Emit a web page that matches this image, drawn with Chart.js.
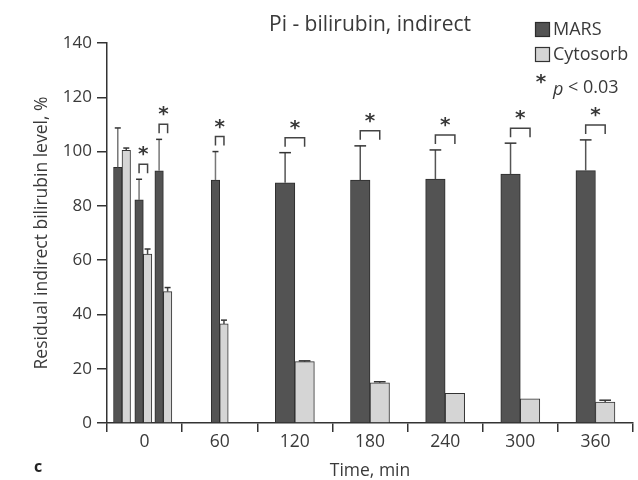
<!DOCTYPE html>
<html><head><meta charset="utf-8">
<script src="https://cdn.jsdelivr.net/npm/chart.js@4/dist/chart.umd.min.js"></script>
<style>html,body{margin:0;padding:0;background:#fff}#wrap{width:638px;height:480px}</style>
</head><body><div id="wrap"><canvas id="c" width="638" height="480"></canvas></div>
<script>
// ---- data ----
const timeLabels = ['0', '60', '120', '180', '240', '300', '360'];
// sample times (min) of the early samples (three around 0, then 60)
const earlyTimes = [-18, -1, 15, 60];
const lateTimes = [120, 180, 240, 300, 360];
const marsEarly = [94.2, 82.2, 92.9, 89.5];
const marsEarlyErr = [14.5, 7.6, 11.6, 10.5];
const cytoEarly = [100.5, 62.2, 48.4, 36.5];
const cytoEarlyErr = [0.8, 1.9, 1.5, 1.4];
const marsLate = [88.5, 89.5, 89.9, 91.7, 93.0];
const marsLateErr = [11.1, 12.6, 10.7, 11.4, 11.3];
const cytoLate = [22.6, 14.8, 10.9, 8.9, 7.7];
const cytoLateErr = [0.3, 0.4, 0, 0, 0.7];
const sigEarly = [false, true, true, true];
const sigLate = [true, true, true, true, true];
const yTicks = [0, 20, 40, 60, 80, 100, 120, 140];

const FONT = '"Open Sans", "DejaVu Sans", sans-serif';
const TXT = '#3a3a3a';
const MARS_FILL = '#535353', MARS_EDGE = '#2c2c2c';
const CYTO_FILL = '#d5d5d5', CYTO_EDGE = '#333';

const pts = (xs, ys) => xs.map((x, i) => ({ x: x, y: ys[i] }));

const marks = {
  id: 'marks',
  afterDatasetsDraw(chart) {
    const ctx = chart.ctx, y = chart.scales.y;
    ctx.save();
    ctx.lineCap = 'butt';
    chart.data.datasets.forEach((ds, di) => {
      const meta = chart.getDatasetMeta(di);
      meta.data.forEach((bar, i) => {
        const e = ds.errors[i];
        if (!e) return;
        const yt = y.getPixelForValue(ds.data[i].y + e);
        const cw = Math.max(6, bar.width * 0.6);
        ctx.lineWidth = 1.5;
        ctx.strokeStyle = ds.errColor;
        ctx.beginPath(); ctx.moveTo(bar.x, bar.y); ctx.lineTo(bar.x, yt); ctx.stroke();
        ctx.strokeStyle = '#333';
        ctx.beginPath(); ctx.moveTo(bar.x - cw / 2, yt); ctx.lineTo(bar.x + cw / 2, yt); ctx.stroke();
      });
    });
    [[0, 1, sigEarly], [2, 3, sigLate]].forEach(([mi, ci, sig]) => {
      const mm = chart.getDatasetMeta(mi), cm = chart.getDatasetMeta(ci);
      const mds = chart.data.datasets[mi];
      mm.data.forEach((bar, i) => {
        if (!sig[i]) return;
        const mx = bar.x, cx = cm.data[i].x;
        const et = y.getPixelForValue(mds.data[i].y + mds.errors[i]);
        const top = et - 15, leg = et - 6;
        ctx.strokeStyle = '#444'; ctx.lineWidth = 1.5;
        ctx.beginPath(); ctx.moveTo(mx, leg); ctx.lineTo(mx, top); ctx.lineTo(cx, top); ctx.lineTo(cx, leg); ctx.stroke();
        drawStar(ctx, (mx + cx) / 2, top - 13);
      });
    });
    ctx.restore();
  },
  afterDraw(chart) {
    const ctx = chart.ctx;
    ctx.save();
    // legend
    ctx.lineWidth = 1.2;
    ctx.fillStyle = MARS_FILL; ctx.strokeStyle = MARS_EDGE;
    ctx.fillRect(535, 22, 15, 15); ctx.strokeRect(535.5, 22.5, 14, 14);
    ctx.fillStyle = CYTO_FILL; ctx.strokeStyle = CYTO_EDGE;
    ctx.fillRect(535, 47, 15, 15); ctx.strokeRect(535.5, 47.5, 14, 14);
    ctx.fillStyle = TXT; ctx.font = '18px ' + FONT; ctx.textBaseline = 'middle'; ctx.textAlign = 'left';
    ctx.fillText('MARS', 553, 30);
    ctx.fillText('Cytosorb', 553, 55);
    drawStar(ctx, 541, 79);
    ctx.font = 'italic 18px ' + FONT;
    ctx.fillText('p', 553, 90);
    const pw = ctx.measureText('p').width;
    ctx.font = '18px ' + FONT;
    ctx.fillText(' < 0.03', 553 + pw, 88);
    // panel letter
    ctx.font = 'bold 16px ' + FONT; ctx.fillStyle = '#222';
    ctx.fillText('c', 34, 467);
    ctx.restore();
  }
};

function drawStar(ctx, x, y) {
  ctx.save();
  ctx.font = 'bold 20px "DejaVu Sans", sans-serif';
  ctx.fillStyle = '#383838';
  ctx.textAlign = 'center';
  ctx.textBaseline = 'alphabetic';
  const m = ctx.measureText('*');
  ctx.fillText('*', x, y + (m.actualBoundingBoxAscent - m.actualBoundingBoxDescent) / 2);
  ctx.restore();
}

new Chart(document.getElementById('c'), {
  type: 'bar',
  data: {
    labels: timeLabels,
    datasets: [
      { label: 'MARS', data: pts(earlyTimes, marsEarly), errors: marsEarlyErr, errColor: '#777', xAxisID: 'xt', yAxisID: 'y', stack: 'mars', barThickness: 8.5, backgroundColor: MARS_FILL, borderColor: MARS_EDGE, borderWidth: 1 },
      { label: 'Cytosorb', data: pts(earlyTimes, cytoEarly), errors: cytoEarlyErr, errColor: '#444', xAxisID: 'xt', yAxisID: 'y', stack: 'cyto', barThickness: 8.5, backgroundColor: CYTO_FILL, borderColor: CYTO_EDGE, borderWidth: 1 },
      { label: 'MARS', data: pts(lateTimes, marsLate), errors: marsLateErr, errColor: '#555', xAxisID: 'xt', yAxisID: 'y', stack: 'mars', barThickness: 19.5, backgroundColor: MARS_FILL, borderColor: MARS_EDGE, borderWidth: 1 },
      { label: 'Cytosorb', data: pts(lateTimes, cytoLate), errors: cytoLateErr, errColor: '#444', xAxisID: 'xt', yAxisID: 'y', stack: 'cyto', barThickness: 19.5, backgroundColor: CYTO_FILL, borderColor: CYTO_EDGE, borderWidth: 1 }
    ]
  },
  options: {
    responsive: false,
    animation: false,
    layout: { padding: { left: 0, right: 5, top: 0, bottom: 0 } },
    plugins: {
      legend: { display: false },
      tooltip: { enabled: false },
      title: {
        display: true, text: 'Pi - bilirubin, indirect', fullSize: false,
        color: TXT, font: { family: FONT, size: 21, weight: 'normal' },
        padding: { top: 12.4, bottom: 5.4 }
      }
    },
    scales: {
      x: {
        type: 'category', position: 'bottom', offset: true,
        grid: { offset: true, drawOnChartArea: false, drawTicks: true, tickLength: 9, color: '#333', lineWidth: 1.5 },
        border: { display: true, color: '#333', width: 1.5 },
        ticks: { color: TXT, font: { family: FONT, size: 17.5 }, padding: 0 },
        title: { display: true, text: 'Time, min', color: TXT, font: { family: FONT, size: 17.5, lineHeight: 1.0 }, padding: { top: 0, bottom: 0 } },
        afterFit: s => { s.height = 57; }
      },
      xt: { type: 'linear', display: false, min: -30, max: 390, offset: false },
      y: {
        type: 'linear', min: 0, max: 140, stacked: false,
        afterBuildTicks: s => { s.ticks = yTicks.map(v => ({ value: v })); },
        grid: { drawOnChartArea: false, drawTicks: true, tickLength: 10, color: '#333', lineWidth: 1.5 },
        border: { display: true, color: '#333', width: 1.5 },
        ticks: { color: TXT, font: { family: FONT, size: 17 }, padding: 5 },
        title: { display: true, text: 'Residual indirect bilirubin level, %', color: TXT, font: { family: FONT, size: 17.5 }, padding: { top: 31.5, bottom: 0 } },
        afterFit: s => { s.width = 107; }
      }
    }
  },
  plugins: [marks]
});
</script></body></html>
